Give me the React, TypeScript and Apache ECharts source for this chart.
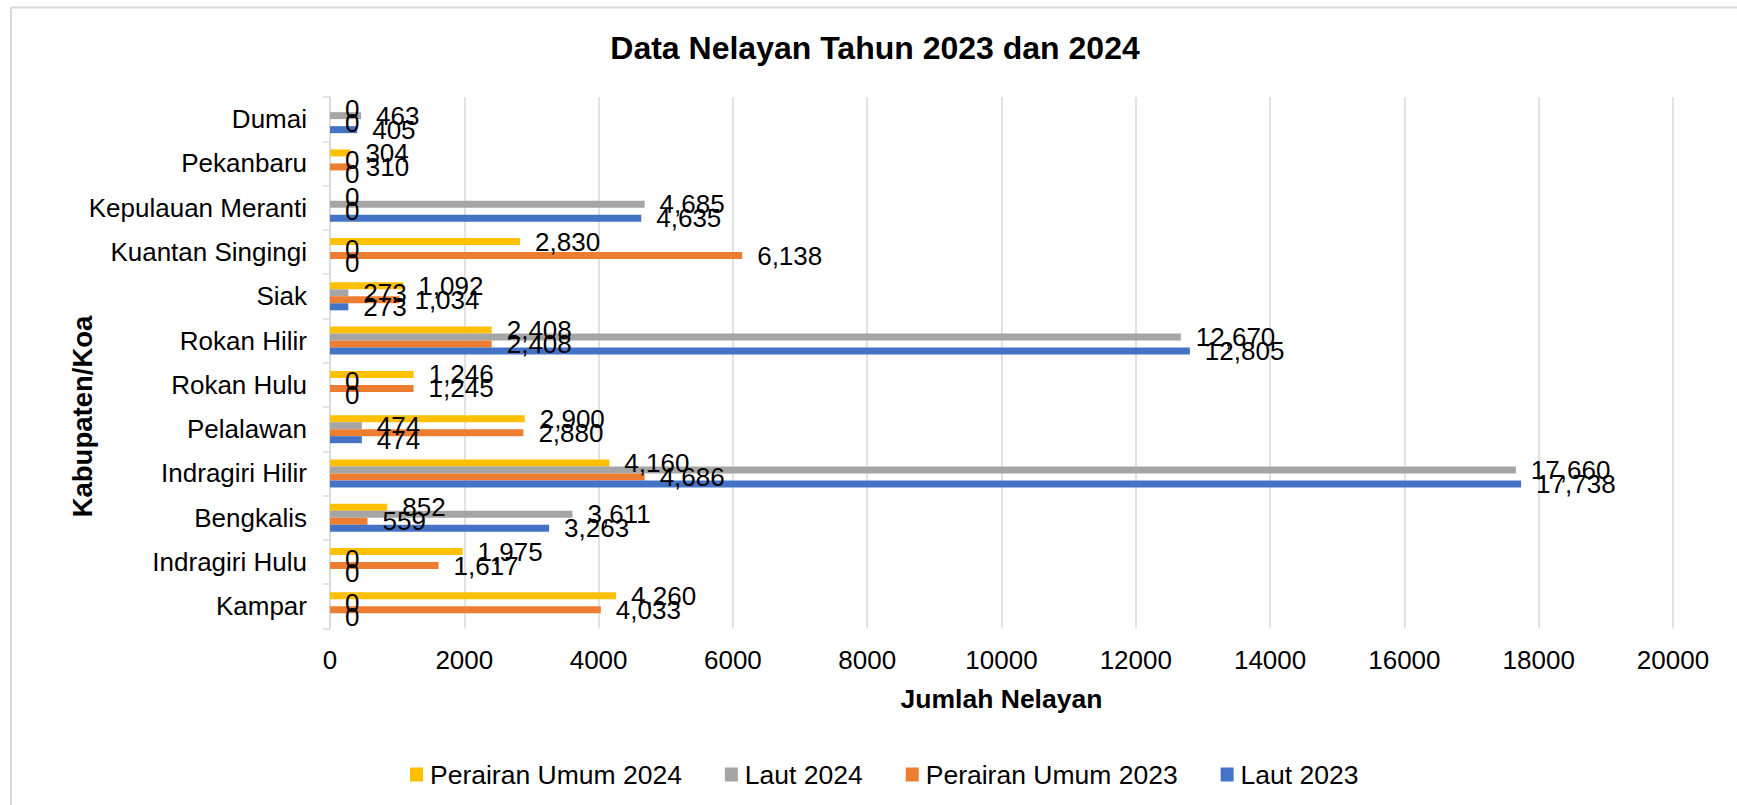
import React, { useEffect, useRef } from 'react';
import * as echarts from 'echarts';

const categories = [
  'Kampar',
  'Indragiri Hulu',
  'Bengkalis',
  'Indragiri Hilir',
  'Pelalawan',
  'Rokan Hulu',
  'Rokan Hilir',
  'Siak',
  'Kuantan Singingi',
  'Kepulauan Meranti',
  'Pekanbaru',
  'Dumai',
];
const perairanUmum2024 = [4260, 1975, 852, 4160, 2900, 1246, 2408, 1092, 2830, 0, 304, 0];
const laut2024 = [0, 0, 3611, 17660, 474, 0, 12670, 273, 0, 4685, 0, 463];
const perairanUmum2023 = [4033, 1617, 559, 4686, 2880, 1245, 2408, 1034, 6138, 0, 310, 0];
const laut2023 = [0, 0, 3263, 17738, 474, 0, 12805, 273, 0, 4635, 0, 405];

const seriesNames = ['Perairan Umum 2024', 'Laut 2024', 'Perairan Umum 2023', 'Laut 2023'];
const seriesColors = ['#FFC000', '#A5A5A5', '#ED7D31', '#4472C4'];
const seriesValues = [perairanUmum2024, laut2024, perairanUmum2023, laut2023];

const titleText = 'Data Nelayan Tahun 2023 dan 2024';
const xAxisTitle = 'Jumlah Nelayan';
const yAxisTitle = 'Kabupaten/Koa';

const FONT = '"Liberation Sans", Arial, sans-serif';

export default function App() {
  const ref = useRef<HTMLDivElement>(null);
  useEffect(() => {
    if (!ref.current) return;
    const chart = echarts.init(ref.current, null, { renderer: 'svg' });
    chart.setOption({
      animation: false,
      backgroundColor: '#ffffff',
      textStyle: { fontFamily: FONT },
      graphic: [
        {
          type: 'rect',
          shape: { x: 11, y: 7.5, width: 1900, height: 1000 },
          style: { fill: 'none', stroke: '#D9D9D9', lineWidth: 2 },
          silent: true,
        },
        {
          type: 'text',
          x: 875,
          y: 48,
          style: {
            text: titleText,
            font: `bold 32px ${FONT}`,
            fill: '#000',
            textAlign: 'center',
            textVerticalAlign: 'middle',
          },
        },
        {
          type: 'text',
          x: 1001.5,
          y: 699,
          style: {
            text: xAxisTitle,
            font: `bold 26.5px ${FONT}`,
            fill: '#000',
            textAlign: 'center',
            textVerticalAlign: 'middle',
          },
        },
        {
          type: 'text',
          x: 82,
          y: 416.5,
          rotation: Math.PI / 2,
          style: {
            text: yAxisTitle,
            font: `bold 27.5px ${FONT}`,
            fill: '#000',
            textAlign: 'center',
            textVerticalAlign: 'middle',
          },
        },
      ],
      legend: {
        data: seriesNames,
        left: 405,
        top: 756,
        itemWidth: 13,
        itemHeight: 14,
        itemGap: 43,
        icon: 'rect',
        textStyle: { fontSize: 26.5, color: '#000', fontFamily: FONT, padding: [0, 0, 0, 2] },
      },
      grid: {
        left: 330,
        right: 64,
        top: 97,
        bottom: 176.5,
        containLabel: false,
        outerBoundsMode: 'none',
      },
      xAxis: {
        type: 'value',
        min: 0,
        max: 20000,
        interval: 2000,
        axisLine: { show: false },
        axisTick: { show: false },
        axisLabel: {
          fontSize: 26,
          color: '#000',
          margin: 18,
          fontFamily: FONT,
          formatter: (v: number) => String(v),
        },
        splitLine: { show: true, lineStyle: { color: '#D9D9D9', width: 1.5 } },
      },
      yAxis: {
        type: 'category',
        data: categories,
        axisLine: { show: true, lineStyle: { color: '#D9D9D9', width: 1.5 } },
        axisTick: { show: true, length: 7, lineStyle: { color: '#D9D9D9', width: 1.5 } },
        axisLabel: { fontSize: 26, color: '#000', margin: 23, fontFamily: FONT },
        splitLine: { show: false },
      },
      series: seriesNames.map((name, i) => ({
        name,
        type: 'bar',
        data: seriesValues[i],
        barWidth: 7,
        barGap: '0%',
        itemStyle: { color: seriesColors[i] },
        label: {
          show: true,
          position: 'right',
          distance: 15,
          fontSize: 26,
          color: '#000',
          fontFamily: FONT,
          formatter: (p: any) => Number(p.value).toLocaleString('en-US'),
        },
      })),
    });
    return () => chart.dispose();
  }, []);
  return (
    <div
      ref={ref}
      style={{ position: 'fixed', left: 0, top: 0, width: 1737, height: 805, background: '#fff' }}
    />
  );
}
